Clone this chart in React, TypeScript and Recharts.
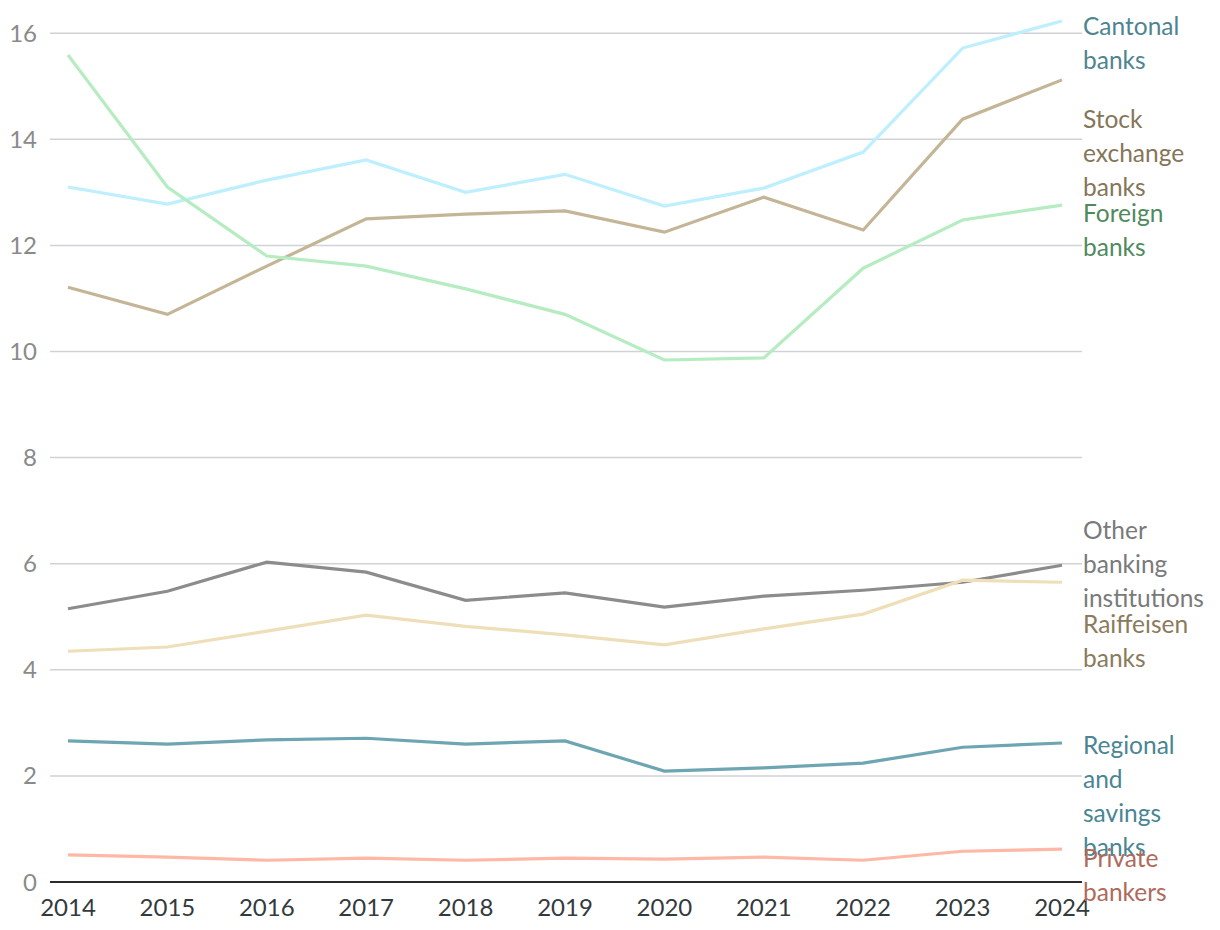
import React from 'react';
import { LineChart, Line, XAxis, YAxis, CartesianGrid } from 'recharts';

const years = ['2014', '2015', '2016', '2017', '2018', '2019', '2020', '2021', '2022', '2023', '2024'];

const cantonal = [13.1, 12.78, 13.23, 13.61, 13.0, 13.34, 12.74, 13.08, 13.76, 15.72, 16.23];
const stockExchange = [11.21, 10.7, 11.61, 12.5, 12.59, 12.65, 12.25, 12.91, 12.29, 14.38, 15.12];
const foreign = [15.59, 13.1, 11.8, 11.61, 11.18, 10.7, 9.84, 9.88, 11.57, 12.48, 12.76];
const otherBanking = [5.15, 5.48, 6.03, 5.84, 5.31, 5.45, 5.18, 5.39, 5.5, 5.65, 5.97];
const raiffeisen = [4.35, 4.43, 4.73, 5.03, 4.82, 4.66, 4.47, 4.77, 5.05, 5.69, 5.65];
const regional = [2.66, 2.6, 2.68, 2.71, 2.6, 2.66, 2.09, 2.15, 2.24, 2.54, 2.62];
const privateBankers = [0.51, 0.47, 0.41, 0.45, 0.41, 0.45, 0.43, 0.47, 0.41, 0.58, 0.62];

const yTicks = [0, 2, 4, 6, 8, 10, 12, 14, 16];

const data = years.map((year, i) => ({
  year,
  cantonal: cantonal[i],
  stockExchange: stockExchange[i],
  foreign: foreign[i],
  otherBanking: otherBanking[i],
  raiffeisen: raiffeisen[i],
  regional: regional[i],
  privateBankers: privateBankers[i],
}));

// series config; labelDy nudges the end label so they don't collide
const series = [
  { key: 'cantonal', lines: ['Cantonal', 'banks'], stroke: '#bdefff', text: '#4e848f', labelDy: 4 },
  { key: 'stockExchange', lines: ['Stock', 'exchange', 'banks'], stroke: '#c4b596', text: '#857659', labelDy: 38 },
  { key: 'foreign', lines: ['Foreign', 'banks'], stroke: '#b6ecc1', text: '#4f8a5e', labelDy: 7 },
  { key: 'otherBanking', lines: ['Other', 'banking', 'institutions'], stroke: '#8c8c8c', text: '#7a7a7a', labelDy: -36 },
  { key: 'raiffeisen', lines: ['Raiffeisen', 'banks'], stroke: '#efdfb9', text: '#8a7b5c', labelDy: 41 },
  { key: 'regional', lines: ['Regional', 'and', 'savings', 'banks'], stroke: '#6ea5b3', text: '#4a8594', labelDy: 1 },
  { key: 'privateBankers', lines: ['Private', 'bankers'], stroke: '#ffb8a6', text: '#b06a5c', labelDy: 8 },
];

const FONT = 'Lato, "Noto Sans", sans-serif';

const makeEndLabel = (lines: string[], color: string, dy: number) => (props: any) => {
  const { x, y, index } = props;
  if (index !== years.length - 1) return null;
  return (
    <text x={x + 21} y={y + dy} fill={color} fontSize={24.5} fontFamily={FONT} dominantBaseline="central">
      {lines.map((l, i) => (
        <tspan key={i} x={x + 21} dy={i === 0 ? 0 : 34}>
          {l}
        </tspan>
      ))}
    </text>
  );
};

export default function App() {
  return (
    <div style={{ position: 'absolute', left: 0, top: 0, background: '#fff' }}>
      <LineChart width={1220} height={930} data={data} margin={{ top: 21, right: 138, bottom: 0, left: 0 }}>
        <CartesianGrid vertical={false} horizontalValues={yTicks} stroke="#cfd2d6" strokeWidth={1.5} />
        <XAxis
          dataKey="year"
          height={48}
          padding={{ left: 18, right: 20 }}
          tickLine={false}
          tickSize={0}
          tickMargin={17}
          axisLine={{ stroke: '#2b2b2b', strokeWidth: 2 }}
          tick={{ fill: '#333a3d', fontSize: 24, fontFamily: FONT }}
          interval={0}
        />
        <YAxis
          width={50}
          domain={[0, 'dataMax']}
          ticks={yTicks}
          tickLine={false}
          tickSize={0}
          tickMargin={13}
          axisLine={false}
          tick={{ fill: '#8a8a8a', fontSize: 24, fontFamily: FONT }}
        />
        {series.map((s) => (
          <Line
            key={s.key}
            type="linear"
            dataKey={s.key}
            stroke={s.stroke}
            strokeWidth={3.2}
            dot={false}
            activeDot={false}
            isAnimationActive={false}
            label={makeEndLabel(s.lines, s.text, s.labelDy)}
          />
        ))}
      </LineChart>
    </div>
  );
}
